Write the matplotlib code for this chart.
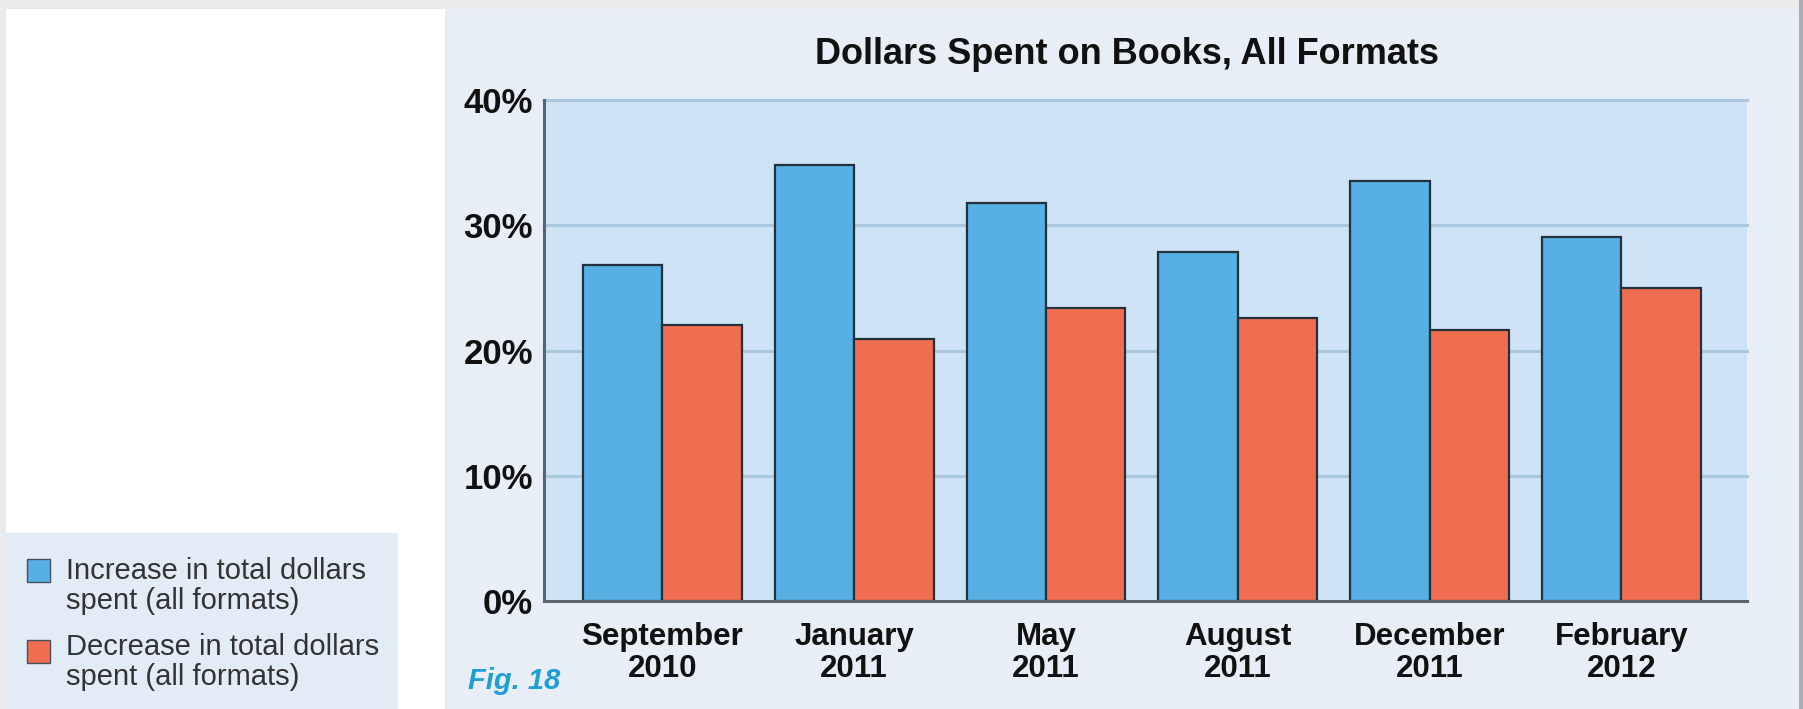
import matplotlib
matplotlib.use("Agg")
import matplotlib.pyplot as plt
from matplotlib.patches import Rectangle

# Data
periods = ["September\n2010", "January\n2011", "May\n2011",
           "August\n2011", "December\n2011", "February\n2012"]
increase = [26.8, 34.8, 31.8, 27.9, 33.5, 29.1]
decrease = [22.0, 20.9, 23.4, 22.6, 21.6, 25.0]
yticks = [0, 10, 20, 30, 40]
series_labels = ["Increase in total dollars\nspent (all formats)",
                 "Decrease in total dollars\nspent (all formats)"]

W, H = 1803, 709
BLUE = "#56b0e4"
RED = "#f06e4f"
EDGE = "#24313d"

plt.rcParams["font.family"] = ["Liberation Sans", "DejaVu Sans"]

fig = plt.figure(figsize=(W / 100, H / 100), dpi=100)
fig.patch.set_facecolor("#ebebeb")


def box(x0, y0, x1, y1, color, z=-5, edge="none", lw=0):
    """Rectangle in pixel coordinates measured from the top-left corner."""
    fig.patches.append(Rectangle((x0 / W, 1 - y1 / H), (x1 - x0) / W, (y1 - y0) / H,
                                 transform=fig.transFigure, facecolor=color,
                                 edgecolor=edge, linewidth=lw, zorder=z))


# page panels
box(6, 9, 445, H, "#ffffff")
box(445, 9, 1799, H, "#e8eef6")
box(1799, 0, W, H, "#a9adb2")
box(6, 533, 398, H, "#e2ecf7")

ax = fig.add_axes([544 / W, 1 - 601 / H, (1747 - 544) / W, (601 - 100) / H])
ax.set_zorder(5)
ax.set_facecolor("#cfe3f6")

x = list(range(len(periods)))
bw = 0.414
ax.bar([i - bw / 2 for i in x], increase, width=bw, color=BLUE,
       edgecolor=EDGE, linewidth=1.6, zorder=3)
ax.bar([i + bw / 2 for i in x], decrease, width=bw, color=RED,
       edgecolor=EDGE, linewidth=1.6, zorder=3)

for t in yticks[1:]:
    ax.axhline(t, color="#a9c7df", linewidth=2.2, zorder=1, clip_on=False)

ax.set_xlim(-0.617, 5.655)
ax.set_ylim(0, 40)
ax.set_yticks(yticks)
ax.set_yticklabels([f"{t}%" for t in yticks], fontsize=25, fontweight="bold",
                   color="#111111")
ax.set_xticks(x)
ax.set_xticklabels(periods, fontsize=22.5, fontweight="bold", color="#111111",
                   linespacing=1.08)
ax.tick_params(axis="both", length=0)
ax.tick_params(axis="y", pad=8)
ax.tick_params(axis="x", pad=15)

for side in ("top", "right"):
    ax.spines[side].set_visible(False)
for side in ("left", "bottom"):
    ax.spines[side].set_color("#5a6470")
    ax.spines[side].set_linewidth(2.2)
    ax.spines[side].set_zorder(4)

fig.text(1127 / W, 1 - 55 / H, "Dollars Spent on Books, All Formats",
         ha="center", va="center", fontsize=26, fontweight="bold", color="#111111")

fig.text(468 / W, 1 - 681 / H, "Fig. 18", ha="left", va="center", fontsize=21,
         fontweight="bold", fontstyle="italic", color="#1d9fd4")

# legend
for (y_sq, y_txt, c, lab) in [(570, 586, BLUE, series_labels[0]),
                              (651, 662, RED, series_labels[1])]:
    box(27, y_sq - 11, 50, y_sq + 12, c, z=2, edge="#44505c", lw=1.0)
    fig.text(66 / W, 1 - y_txt / H, lab, ha="left", va="center", fontsize=21,
             color="#333333", linespacing=1.1)

fig.savefig("out.png", dpi=100, facecolor=fig.get_facecolor())
